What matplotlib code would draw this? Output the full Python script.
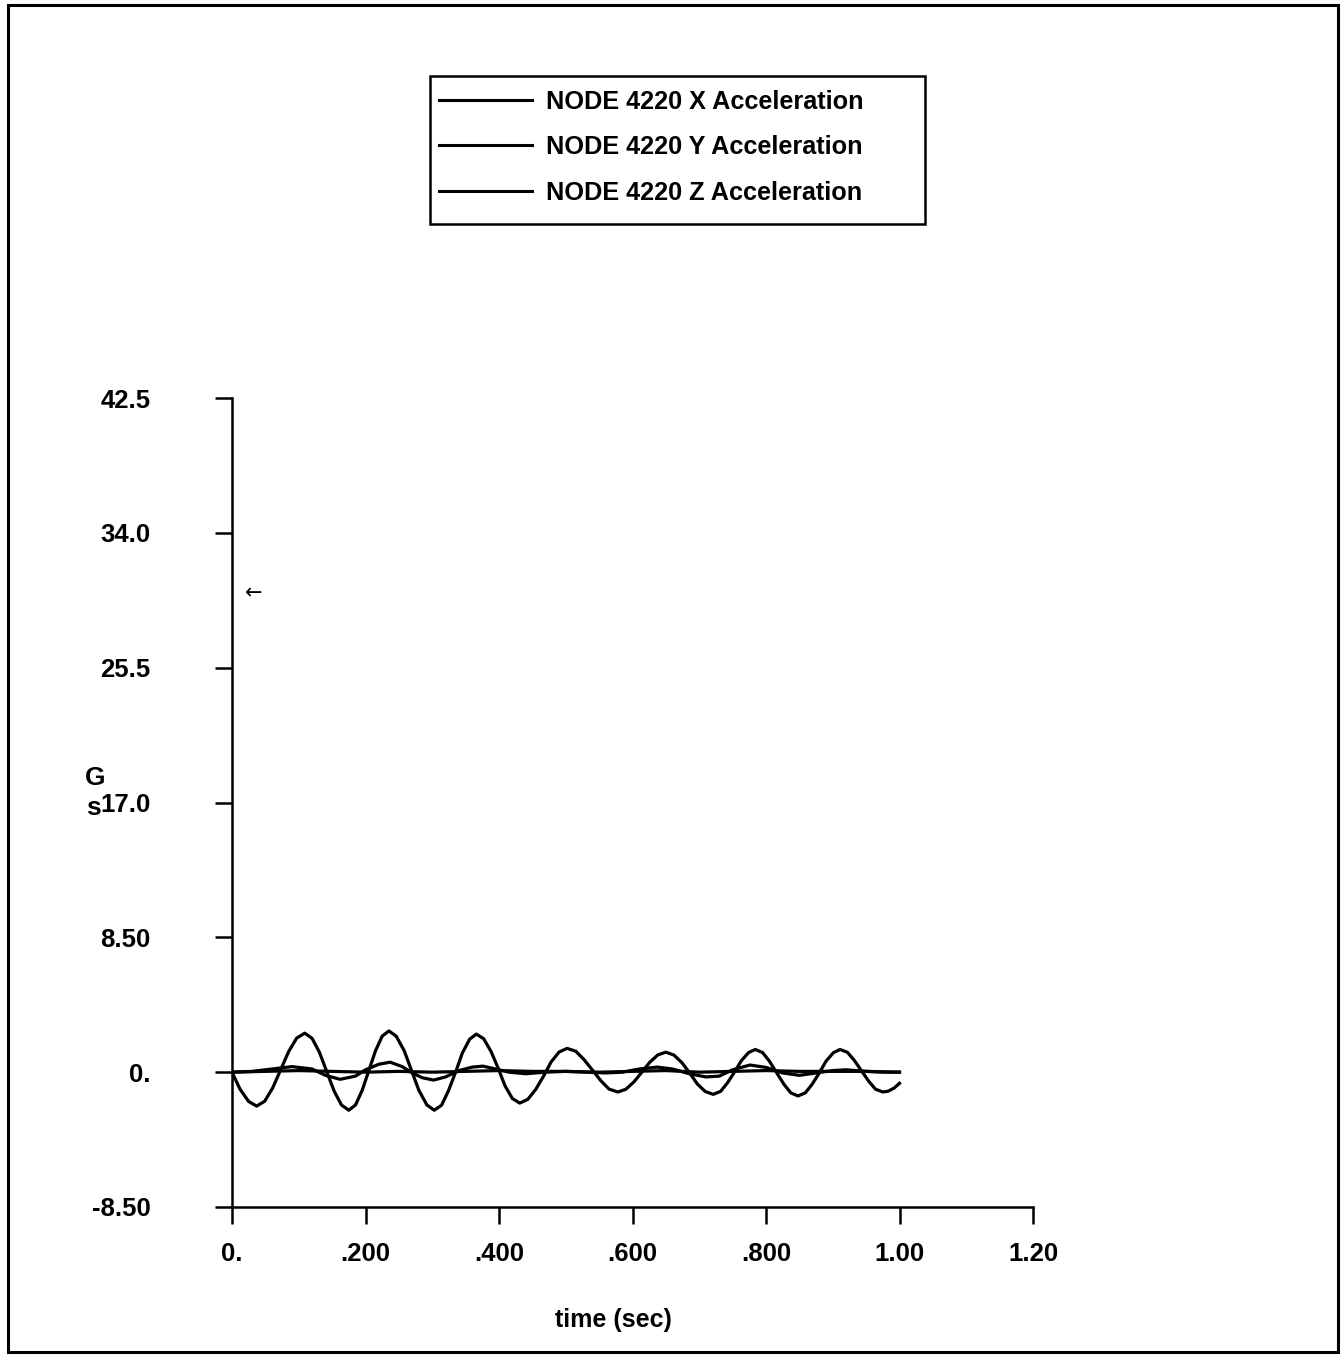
import matplotlib
matplotlib.use("Agg")
import matplotlib.pyplot as plt
from matplotlib.patches import Rectangle

plt.rcParams['font.family'] = ['Liberation Sans', 'DejaVu Sans']

# time history of node 4220 (seconds, Gs)
z_t = [0, 0.012, 0.025, 0.037, 0.049, 0.061, 0.073, 0.085, 0.097, 0.109,
       0.120, 0.131, 0.142, 0.153, 0.164, 0.175, 0.185, 0.195, 0.205, 0.215,
       0.225, 0.235, 0.246, 0.258, 0.269, 0.280, 0.292, 0.303, 0.314, 0.324,
       0.335, 0.345, 0.356, 0.366, 0.377, 0.388, 0.399, 0.409, 0.420, 0.431,
       0.443, 0.455, 0.467, 0.478, 0.490, 0.502, 0.515, 0.527, 0.540, 0.553,
       0.565, 0.578, 0.590, 0.602, 0.614, 0.626, 0.638, 0.650, 0.662, 0.674,
       0.686, 0.697, 0.709, 0.721, 0.732, 0.742, 0.753, 0.763, 0.774, 0.784,
       0.795, 0.805, 0.816, 0.827, 0.837, 0.848, 0.859, 0.869, 0.880, 0.890,
       0.901, 0.911, 0.922, 0.932, 0.943, 0.954, 0.964, 0.975, 0.983, 0.992, 1.0]
z_acc = [0, -1.07, -1.85, -2.14, -1.83, -0.99, 0.16, 1.31, 2.15, 2.46,
         2.13, 1.25, 0.03, -1.19, -2.07, -2.4, -2.07, -1.15, 0.1, 1.35,
         2.27, 2.6, 2.27, 1.35, 0.1, -1.15, -2.07, -2.4, -2.08, -1.2,
         0, 1.2, 2.08, 2.4, 2.11, 1.31, 0.23, -0.86, -1.66, -1.95,
         -1.72, -1.09, -0.23, 0.64, 1.27, 1.5, 1.32, 0.81, 0.13, -0.56,
         -1.07, -1.25, -1.08, -0.62, 0.0, 0.63, 1.09, 1.26, 1.08, 0.6,
         -0.07, -0.74, -1.22, -1.4, -1.21, -0.69, 0.02, 0.72, 1.24, 1.43,
         1.23, 0.70, -0.04, -0.77, -1.30, -1.5, -1.30, -0.77, -0.04, 0.70,
         1.23, 1.43, 1.25, 0.76, 0.09, -0.58, -1.07, -1.25, -1.2, -1.0, -0.7]

y_t = [0, 0.03, 0.06, 0.09, 0.12, 0.14, 0.162, 0.185, 0.2, 0.22, 0.237, 0.255,
       0.27, 0.285, 0.302, 0.32, 0.34, 0.36, 0.376, 0.395, 0.415, 0.44, 0.47,
       0.5, 0.53, 0.56, 0.585, 0.61, 0.637, 0.66, 0.685, 0.71, 0.73, 0.75,
       0.776, 0.8, 0.825, 0.85, 0.875, 0.9, 0.92, 0.95, 0.975, 1.0]
y_acc = [0, 0.05, 0.2, 0.35, 0.2, -0.2, -0.45, -0.25, 0.15, 0.5, 0.63, 0.35,
         -0.05, -0.35, -0.5, -0.3, 0.1, 0.32, 0.38, 0.2, 0.0, -0.1, 0.0,
         0.05, 0.0, -0.05, 0.0, 0.2, 0.32, 0.2, -0.1, -0.3, -0.25, 0.15,
         0.45, 0.3, -0.05, -0.2, -0.05, 0.1, 0.15, 0.05, 0.0, 0.0]

x_t = [0, 0.05, 0.1, 0.15, 0.2, 0.25, 0.3, 0.35, 0.4, 0.45, 0.5, 0.55, 0.6,
       0.65, 0.7, 0.75, 0.8, 0.85, 0.9, 0.95, 1.0]
x_acc = [0.0, 0.05, 0.1, 0.05, 0.0, 0.05, 0.0, 0.05, 0.1, 0.05, 0.05, 0.0,
         0.05, 0.1, 0.0, 0.05, 0.1, 0.05, 0.05, 0.05, 0.0]

labels = ['NODE 4220 X Acceleration', 'NODE 4220 Y Acceleration',
          'NODE 4220 Z Acceleration']
xticks = [0, 0.2, 0.4, 0.6, 0.8, 1.0, 1.2]
xtick_labels = ['0.', '.200', '.400', '.600', '.800', '1.00', '1.20']
yticks = [-8.5, 0, 8.5, 17.0, 25.5, 34.0, 42.5]
ytick_labels = ['-8.50', '0.', '8.50', '17.0', '25.5', '34.0', '42.5']

W, H = 1343, 1355
fig = plt.figure(figsize=(W / 100, H / 100), dpi=100)
ax = fig.add_axes([232 / W, 1 - 1207 / H, (1033 - 232) / W, (1207 - 398) / H])

lw = 2.3
ax.plot(x_t, x_acc, color='black', lw=lw, label=labels[0])
ax.plot(y_t, y_acc, color='black', lw=lw, label=labels[1])
ax.plot(z_t, z_acc, color='black', lw=lw, label=labels[2])

ax.set_xlim(0, 1.2)
ax.set_ylim(-8.5, 42.5)
for side in ['top', 'right']:
    ax.spines[side].set_visible(False)
for side in ['left', 'bottom']:
    ax.spines[side].set_linewidth(1.8)

ax.set_xticks(xticks)
ax.set_xticklabels(xtick_labels)
ax.set_yticks(yticks)
ax.set_yticklabels(ytick_labels)
ax.tick_params(axis='both', direction='out', length=12.5, width=1.8,
               labelsize=18.5)
ax.tick_params(axis='x', pad=13)
ax.tick_params(axis='y', pad=46)
for lab in ax.get_xticklabels() + ax.get_yticklabels():
    lab.set_fontweight('bold')

# pen mark near the top of the y axis
ax.text(0.033, 30.2, '\u2190', family='DejaVu Sans', fontsize=15,
        ha='center', va='center')

fig.text(613 / W, 1 - 1320 / H, 'time (sec)', fontsize=18, fontweight='bold',
         ha='center', va='center')
fig.text(95 / W, 1 - 778 / H, 'G', fontsize=19, fontweight='bold',
         ha='center', va='center')
fig.text(93 / W, 1 - 808 / H, 's', fontsize=19, fontweight='bold',
         ha='center', va='center')

leg = fig.legend(loc='upper left', bbox_to_anchor=(431 / W, 1 - 82 / H),
                 frameon=False, fontsize=18.2, handlelength=3.7,
                 handletextpad=0.55, labelspacing=0.85, borderpad=0.3,
                 borderaxespad=0)
for t in leg.get_texts():
    t.set_fontweight('bold')
for h in leg.legend_handles:
    h.set_linewidth(2.2)

fig.add_artist(Rectangle((430 / W, 1 - 224 / H), (925 - 430) / W, (224 - 76) / H,
                         transform=fig.transFigure, fill=False,
                         edgecolor='black', lw=1.8))
fig.add_artist(Rectangle((8 / W, 1 - 1352 / H), (1338 - 8) / W, (1352 - 5) / H,
                         transform=fig.transFigure, fill=False,
                         edgecolor='black', lw=2.2))

fig.savefig('out.png', dpi=100)
